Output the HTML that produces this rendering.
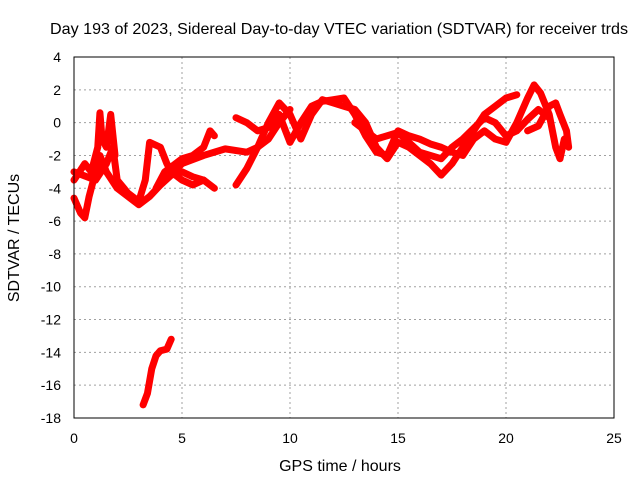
<!DOCTYPE html>
<html><head><meta charset="utf-8"><style>
body{margin:0;background:#fff}
svg{font-family:"Liberation Sans",sans-serif;font-size:14px}
.big{font-size:16px}
</style></head><body>
<svg id="chart" width="640" height="480">
<rect width="640" height="480" fill="#fff"/>
<text class="big" x="339" y="34" text-anchor="middle" textLength="578" lengthAdjust="spacingAndGlyphs">Day 193 of 2023, Sidereal Day-to-day VTEC variation (SDTVAR) for receiver trds</text>
<text class="big" x="340" y="471" text-anchor="middle">GPS time / hours</text>
<text class="big" transform="translate(19,238) rotate(-90)" text-anchor="middle">SDTVAR / TECUs</text>
<g id="grid"></g><g id="ticks"></g><g id="series"></g>
<rect x="74" y="57" width="540" height="361" fill="none" stroke="#000" stroke-width="1"/>
</svg>
<script>
const xTicks=[0,5,10,15,20,25];
const yTicks=[4,2,0,-2,-4,-6,-8,-10,-12,-14,-16,-18];
const track1=[[0,-4.6],[0.3,-5.5],[0.5,-5.8],[0.7,-4.5],[1.0,-3],[1.2,-2],[1.5,-3],[2,-4],[2.5,-4.5],[3,-5],[3.5,-4.5],[4,-3.8],[4.5,-3.2],[5,-3],[5.5,-3.3],[6,-3.5],[6.5,-4]];
const track2=[[0,-3.5],[0.5,-2.5],[0.8,-3],[1.1,-1.5],[1.2,0.6],[1.3,-1],[1.5,-1.5],[1.7,0.5],[1.9,-2]];
const track3=[[0,-3],[1,-3.5],[1.5,-2.5],[1.8,-1.5],[2,-3.5],[2.5,-4.3],[3,-4.8],[3.3,-3.5],[3.5,-1.2],[4,-1.5],[4.3,-2.5],[4.5,-3],[5,-3.5],[5.5,-3.8],[6,-3.5]];
const track4=[[3.8,-4],[4.2,-3],[5,-2.2],[5.5,-2],[6,-1.5],[6.3,-0.5],[6.5,-0.8]];
const track5=[[4.5,-3.2],[5,-2.5],[6,-2],[7,-1.6],[8,-1.8],[8.5,-1.5],[9,-1],[9.5,0],[10,0.8]];
const track6=[[7.5,-3.8],[8,-2.8],[8.5,-1.5],[9,0],[9.5,1.2],[10,0.5],[10.5,-1],[11,0.5],[11.5,1.4],[12,1.2],[12.5,1],[13,0.8],[13.5,0],[14,-1.5],[14.5,-2.2],[15,-1.2],[15.5,-1.5],[16,-2],[16.5,-2.5],[17,-3.2],[17.5,-2.5],[18,-1.5],[18.5,-0.5],[19,0.5],[19.5,1],[20,1.5],[20.5,1.7]];
const track7=[[7.5,0.3],[8,0],[8.5,-0.5],[9,-0.3],[9.5,0.5],[10,-1.2],[10.5,0],[11,1],[11.5,1.3],[12,1.4],[12.5,1.5],[13,0.5],[13.5,-0.8],[14,-1.8],[14.5,-2],[15,-0.5],[15.5,-0.8],[16,-1],[16.5,-1.3],[17,-1.5],[17.5,-1.8],[18,-2],[18.5,-1],[19,-0.5],[19.5,-1],[20,-1.2],[20.5,0],[21,1.5],[21.3,2.3],[21.6,1.8],[22,0.5],[22.3,-1.5],[22.5,-2.2],[22.7,-1]];
const track8=[[13,0],[14,-1],[15,-0.6],[16,-1.8],[16.5,-2],[17,-2.2],[17.5,-1.5],[18,-1],[19,0.3],[19.5,0],[20,-0.8],[20.5,-0.5],[21,0.2],[21.5,0.8],[22,0.3]];
const track9=[[21,-0.5],[21.5,-0.2],[22,1],[22.3,1.2],[22.5,0.5],[22.8,-0.5],[22.9,-1.5]];
const track10=[[3.2,-17.2],[3.4,-16.5],[3.6,-15],[3.8,-14.2],[4,-13.9],[4.3,-13.8],[4.5,-13.2]];
const tracks=[track1,track2,track3,track4,track5,track6,track7,track8,track9,track10];
const NS="http://www.w3.org/2000/svg";
const X0=74,X1=614,Y0=418,Y1=57,xmin=0,xmax=25,ymin=-18,ymax=4;
const sx=v=>X0+(v-xmin)/(xmax-xmin)*(X1-X0);
const sy=v=>Y0-(v-ymin)/(ymax-ymin)*(Y0-Y1);
const grid=document.getElementById('grid'),ticks=document.getElementById('ticks'),ser=document.getElementById('series');
function mk(t,a,p){const e=document.createElementNS(NS,t);for(const k in a)e.setAttribute(k,a[k]);p.appendChild(e);return e;}
xTicks.forEach(v=>{const x=sx(v);
 if(v>xmin&&v<xmax){const g=mk('line',{x1:x,x2:x,y1:Y1,y2:Y0,stroke:'#a0a0a0','stroke-dasharray':'2,3'},grid);
 
 }
 const t=mk('text',{x:x,y:443,'text-anchor':'middle'},ticks);t.textContent=v;
 
 });
yTicks.forEach(v=>{const y=sy(v);
 if(v>ymin&&v<ymax){const g=mk('line',{x1:X0,x2:X1,y1:y,y2:y,stroke:'#a0a0a0','stroke-dasharray':'2,3'},grid);
 
 }
 const t=mk('text',{x:61,y:y+5,'text-anchor':'end'},ticks);t.textContent=v;
 
 });
tracks.forEach((tr,i)=>{const p=mk('polyline',{points:tr.map(d=>sx(d[0])+','+sy(d[1])).join(' '),fill:'none',stroke:'#ff0000','stroke-width':7,'stroke-linejoin':'round','stroke-linecap':'round'},ser);
 
 });
</script>
</body></html>
